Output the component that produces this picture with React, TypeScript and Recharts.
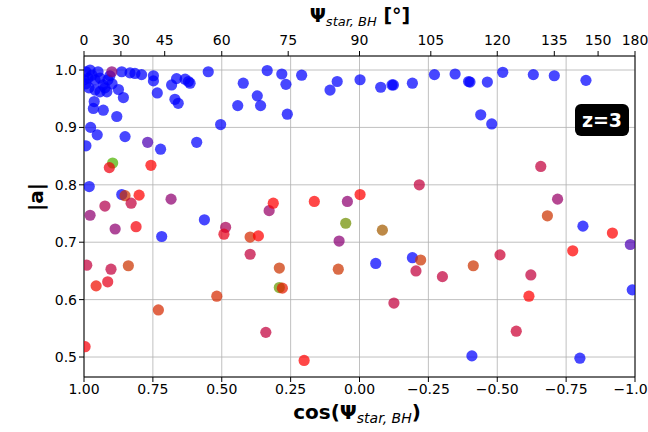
import {
  ScatterChart,
  Scatter,
  XAxis,
  YAxis,
  CartesianGrid,
  ReferenceLine,
  Cell,
} from "recharts";

// cos(Psi_star,BH) of each halo
const COS_PSI = [
  0.993, 0.985, 0.978, 0.971, 0.993, 0.96, 0.949, 0.942, 0.931, 0.924, 0.913, 0.96, 0.982, 0.906,
  0.898, 1.0, 0.942, 0.917, 0.863, 0.833, 0.815, 0.791, 0.748, 0.748, 0.664, 0.633, 0.621, 0.615,
  0.682, 0.549, 0.422, 0.335, 0.734, 0.67, 0.658, 0.857, 0.875, 0.93, 0.966, 0.963, 0.881, 0.976,
  0.952, 0.851, 0.993, 0.722, 0.591, 0.504, 0.442, 0.371, 0.359, 0.282, 0.267, 0.21, 0.081, 0.107,
  -0.002, -0.077, -0.123, -0.118, -0.192, -0.272, -0.347, 0.262, -0.401, -0.396, -0.464, -0.52,
  -0.631, -0.707, -0.822, -0.44, -0.48, 0.981, 0.863, 0.718, 0.563, -0.059, -0.192, -0.811, -0.99,
  -0.408, -0.8, 0.769, -0.983, 0.899, 0.896, 0.908, 0.757, 0.851, 0.8, 0.829, 0.684, 0.924, 0.978,
  0.887, 0.811, 0.486, 0.492, 0.397, 0.367, 0.397, 0.328, 0.313, 0.99, 0.902, 0.839, 0.956, 0.914,
  0.73, 0.518, 0.34, 0.996, -0.217, -0.002, 0.164, 0.044, 0.05, -0.083, 0.074, -0.222, -0.205,
  -0.301, 0.291, 0.077, 0.291, 0.28, -0.125, 0.201, -0.658, -0.719, -0.682, -0.918, -0.774, -0.51,
  -0.413, -0.622, -0.615, -0.569,
];

// spin magnitude |a|
const SPIN = [
  0.997, 0.986, 1.0, 0.991, 0.976, 0.983, 0.997, 0.986, 0.974, 0.969, 0.983, 0.965, 0.969, 0.99,
  0.976, 0.983, 0.962, 0.962, 0.997, 0.995, 0.994, 0.992, 0.99, 0.981, 0.985, 0.984, 0.98, 0.977,
  0.974, 0.997, 0.977, 0.999, 0.96, 0.949, 0.942, 0.952, 0.966, 0.93, 0.933, 0.945, 0.919, 0.9,
  0.887, 0.884, 0.868, 0.862, 0.874, 0.905, 0.938, 0.955, 0.938, 0.993, 0.975, 0.991, 0.98, 0.965,
  0.983, 0.97, 0.974, 0.974, 0.977, 0.992, 0.993, 0.923, 0.979, 0.98, 0.979, 0.996, 0.992, 0.99,
  0.982, 0.922, 0.906, 0.797, 0.783, 0.71, 0.739, 0.663, 0.673, 0.728, 0.617, 0.502, 0.498, 0.874,
  0.696, 0.997, 0.838, 0.83, 0.834, 0.781, 0.782, 0.768, 0.775, 0.763, 0.747, 0.723, 0.727, 0.726,
  0.714, 0.709, 0.711, 0.679, 0.755, 0.768, 0.66, 0.653, 0.659, 0.624, 0.631, 0.582, 0.606, 0.543,
  0.518, 0.8, 0.783, 0.771, 0.771, 0.733, 0.721, 0.702, 0.669, 0.65, 0.64, 0.655, 0.653, 0.621, 0.62,
  0.594, 0.494, 0.832, 0.775, 0.746, 0.716, 0.685, 0.678, 0.659, 0.643, 0.606, 0.545,
];

// colour value on the brg map (0 blue, 0.5 red, 1 green)
const TINT = [
  0, 0, 0, 0, 0, 0, 0, 0, 0, 0, 0, 0, 0, 0, 0, 0, 0, 0, 0, 0, 0, 0, 0, 0, 0, 0, 0, 0, 0, 0, 0, 0, 0,
  0, 0, 0, 0, 0, 0, 0, 0, 0, 0, 0, 0, 0, 0, 0, 0, 0, 0, 0, 0, 0, 0, 0, 0, 0, 0, 0, 0, 0, 0, 0, 0, 0,
  0, 0, 0, 0, 0, 0, 0, 0, 0, 0, 0, 0, 0, 0, 0, 0, 0, 0.15, 0.15, 0.27, 0.85, 0.47, 0.5, 0.6, 0.5,
  0.38, 0.28, 0.35, 0.28, 0.28, 0.48, 0.33, 0.45, 0.58, 0.5, 0.38, 0.3, 0.5, 0.38, 0.38, 0.6, 0.53,
  0.45, 0.58, 0.58, 0.38, 0.48, 0.38, 0.5, 0.5, 0.28, 0.78, 0.68, 0.27, 0.6, 0.38, 0.38, 0.6, 0.6,
  0.8, 0.55, 0.38, 0.5, 0.38, 0.3, 0.6, 0.5, 0.5, 0.4, 0.6, 0.38, 0.5, 0.4,
];

const COS_TICKS = [1, 0.75, 0.5, 0.25, 0, -0.25, -0.5, -0.75, -1];
const PSI_TICKS = [0, 30, 45, 60, 75, 90, 105, 120, 135, 150, 180];
const SPIN_TICKS = [0.5, 0.6, 0.7, 0.8, 0.9, 1.0];

const points = COS_PSI.map((c, i) => ({ c, a: SPIN[i], t: TINT[i] }));

function brg(t: number) {
  const r = t < 0.5 ? 2 * t : 2 * (1 - t);
  const g = t < 0.5 ? 0 : 2 * t - 1;
  const b = t < 0.5 ? 1 - 2 * t : 0;
  return `rgb(${Math.round(r * 255)},${Math.round(g * 255)},${Math.round(b * 255)})`;
}

const FONT = "DejaVu Sans, sans-serif";
const tick = { fontSize: 14, fill: "#000", fontFamily: FONT };

export default function App() {
  return (
    <div style={{ position: "absolute", left: 0, top: 0, width: 648, height: 432 }}>
      <ScatterChart
        width={648}
        height={432}
        margin={{ top: 0, right: 13, bottom: 0, left: 0 }}
        style={{ fontFamily: FONT }}
      >
        <CartesianGrid stroke="#b0b0b0" strokeWidth={0.8} />
        <XAxis
          type="number"
          dataKey="c"
          domain={[-1, 1]}
          reversed
          allowDataOverflow
          ticks={COS_TICKS}
          interval={0}
          tickFormatter={(v) => Number(v).toFixed(2).replace("-", "\u2212")}
          tick={tick}
          tickSize={5}
          height={55}
          stroke="#000"
        />
        <XAxis
          xAxisId="top"
          orientation="top"
          type="number"
          dataKey="c"
          domain={[-1, 1]}
          reversed
          allowDataOverflow
          ticks={PSI_TICKS.map((d) => Math.cos((d * Math.PI) / 180))}
          interval={0}
          tickFormatter={(v) =>
            String(Math.round((Math.acos(Math.max(-1, Math.min(1, Number(v)))) * 180) / Math.PI))
          }
          tick={tick}
          tickSize={5}
          tickMargin={6}
          height={56}
          stroke="#000"
        />
        <YAxis
          type="number"
          dataKey="a"
          domain={[0.4652, 1.0244]}
          allowDataOverflow
          ticks={SPIN_TICKS}
          interval={0}
          tickFormatter={(v) => Number(v).toFixed(1)}
          tick={tick}
          tickSize={5}
          width={84}
          stroke="#000"
        />
        <ReferenceLine x={-1} stroke="#000" strokeWidth={1} />
        {/* invisible series so the degree axis on top gets drawn */}
        <Scatter
          xAxisId="top"
          data={points}
          isAnimationActive={false}
          shape={() => <g />}
        />
        <Scatter
          data={points}
          isAnimationActive={false}
          shape={(props: any) => (
            <circle cx={props.cx} cy={props.cy} r={5.6} fill={props.fill} fillOpacity={0.72} />
          )}
        >
          {points.map((p, i) => (
            <Cell key={i} fill={brg(p.t)} />
          ))}
        </Scatter>
      </ScatterChart>
      <svg
        width={648}
        height={432}
        style={{ position: "absolute", left: 0, top: 0, pointerEvents: "none", fontFamily: FONT }}
      >
        <text x={360} y={22} textAnchor="middle" fontSize={19} fontWeight="bold">
          Ψ
          <tspan fontSize={13} fontStyle="italic" fontWeight="normal" dy={4}>
            star, BH
          </tspan>
          <tspan dy={-4}> [°]</tspan>
        </text>
        <text x={357} y={419} textAnchor="middle" fontSize={20} fontWeight="bold">
          cos(Ψ
          <tspan fontSize={14} fontStyle="italic" fontWeight="normal" dy={4}>
            star, BH
          </tspan>
          <tspan dy={-4}>)</tspan>
        </text>
        <text
          x={43}
          y={197}
          textAnchor="middle"
          fontSize={20}
          fontWeight="bold"
          transform="rotate(-90 43 197)"
        >
          |a|
        </text>
        <rect x={575} y={104} width={54} height={32} rx={6} fill="#000" />
        <text x={602} y={127} textAnchor="middle" fontSize={19} fontWeight="bold" fill="#fff">
          z=3
        </text>
      </svg>
    </div>
  );
}
